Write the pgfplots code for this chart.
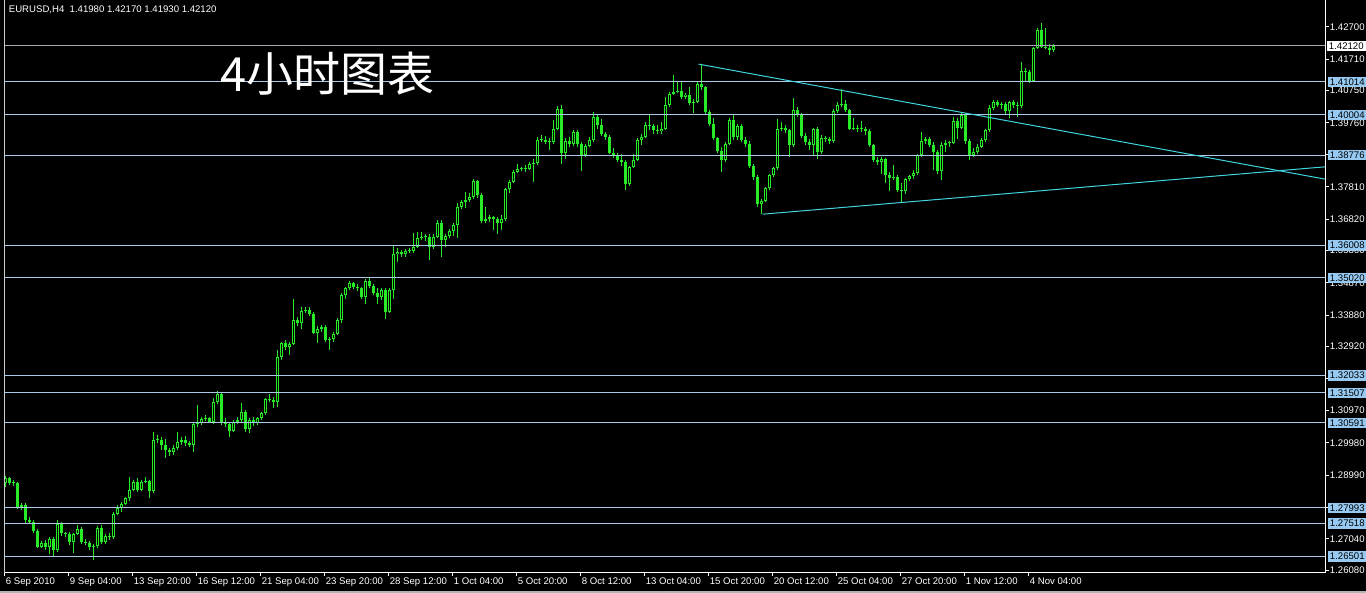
\documentclass[border=0pt]{standalone}
\usepackage{fontspec}
\setmainfont{Liberation Sans}
\newfontfamily\cjk{Noto Sans CJK SC}
\usepackage{pgfplots}
\usepackage{pgfplotstable}
\pgfplotsset{compat=1.18}

\definecolor{candle}{RGB}{40,235,40}
\definecolor{level}{RGB}{170,200,232}
\definecolor{bidline}{RGB}{165,168,178}
\definecolor{levelbox}{RGB}{150,202,242}
\definecolor{trend}{RGB}{64,212,222}

% EURUSD H4 bars: index, open, high, low, close
\pgfplotstableread{
i O H L C
0 1.2874 1.2896 1.2862 1.2889
1 1.2889 1.2892 1.2869 1.2876
2 1.2876 1.2884 1.2866 1.2874
3 1.2874 1.2879 1.2797 1.2802
4 1.2802 1.2815 1.2794 1.2807
5 1.2807 1.2813 1.2751 1.2762
6 1.2762 1.2772 1.2749 1.2756
7 1.2756 1.2762 1.2723 1.2729
8 1.2729 1.2733 1.2675 1.2680
9 1.2680 1.2698 1.2675 1.2692
10 1.2692 1.2700 1.2670 1.2680
11 1.2680 1.2711 1.2658 1.2705
12 1.2705 1.2711 1.2651 1.2670
13 1.2670 1.2762 1.2665 1.2749
14 1.2749 1.2756 1.2713 1.2721
15 1.2721 1.2726 1.2711 1.2718
16 1.2718 1.2726 1.2685 1.2695
17 1.2695 1.2723 1.2660 1.2719
18 1.2719 1.2746 1.2716 1.2733
19 1.2733 1.2741 1.2688 1.2695
20 1.2695 1.2705 1.2685 1.2692
21 1.2692 1.2698 1.2670 1.2678
22 1.2678 1.2688 1.2641 1.2682
23 1.2682 1.2743 1.2675 1.2739
24 1.2739 1.2746 1.2688 1.2695
25 1.2695 1.2719 1.2688 1.2713
26 1.2713 1.2721 1.2702 1.2709
27 1.2709 1.2787 1.2705 1.2780
28 1.2780 1.2807 1.2777 1.2800
29 1.2800 1.2818 1.2787 1.2811
30 1.2811 1.2833 1.2807 1.2828
31 1.2828 1.2892 1.2821 1.2855
32 1.2855 1.2884 1.2851 1.2879
33 1.2879 1.2889 1.2848 1.2855
34 1.2855 1.2884 1.2851 1.2878
35 1.2878 1.2892 1.2874 1.2880
36 1.2880 1.2884 1.2828 1.2851
37 1.2851 1.3032 1.2845 1.3006
38 1.3006 1.3022 1.2998 1.3008
39 1.3008 1.3017 1.2976 1.2991
40 1.2991 1.3011 1.2953 1.2976
41 1.2976 1.2981 1.2957 1.2971
42 1.2971 1.2991 1.2960 1.2981
43 1.2981 1.3032 1.2976 1.3001
44 1.3001 1.3017 1.2991 1.3006
45 1.3006 1.3019 1.2988 1.2996
46 1.2996 1.3004 1.2984 1.2991
47 1.2991 1.3062 1.2971 1.3057
48 1.3057 1.3113 1.3045 1.3059
49 1.3059 1.3078 1.3052 1.3070
50 1.3070 1.3083 1.3066 1.3073
51 1.3073 1.3078 1.3059 1.3062
52 1.3062 1.3134 1.3057 1.3124
53 1.3124 1.3157 1.3117 1.3147
54 1.3147 1.3154 1.3052 1.3062
55 1.3062 1.3073 1.3045 1.3055
56 1.3055 1.3062 1.3017 1.3035
57 1.3035 1.3068 1.3032 1.3062
58 1.3062 1.3078 1.3055 1.3068
59 1.3068 1.3121 1.3062 1.3093
60 1.3093 1.3098 1.3032 1.3039
61 1.3039 1.3073 1.3027 1.3068
62 1.3068 1.3078 1.3049 1.3059
63 1.3059 1.3078 1.3052 1.3073
64 1.3073 1.3093 1.3068 1.3088
65 1.3088 1.3134 1.3083 1.3131
66 1.3131 1.3147 1.3124 1.3129
67 1.3129 1.3137 1.3106 1.3124
68 1.3123 1.3281 1.3108 1.3261
69 1.3261 1.3307 1.3251 1.3302
70 1.3302 1.3312 1.3281 1.3291
71 1.3291 1.3307 1.3266 1.3300
72 1.3300 1.3439 1.3296 1.3375
73 1.3375 1.3383 1.3355 1.3363
74 1.3363 1.3414 1.3347 1.3402
75 1.3402 1.3414 1.3395 1.3404
76 1.3404 1.3414 1.3385 1.3391
77 1.3391 1.3398 1.3332 1.3334
78 1.3334 1.3355 1.3302 1.3347
79 1.3347 1.3358 1.3337 1.3353
80 1.3353 1.3358 1.3307 1.3312
81 1.3312 1.3322 1.3283 1.3316
82 1.3316 1.3337 1.3307 1.3332
83 1.3332 1.3381 1.3327 1.3373
84 1.3373 1.3455 1.3365 1.3449
85 1.3449 1.3473 1.3439 1.3470
86 1.3470 1.3493 1.3465 1.3487
87 1.3487 1.3490 1.3467 1.3475
88 1.3475 1.3483 1.3463 1.3470
89 1.3470 1.3475 1.3439 1.3444
90 1.3444 1.3500 1.3424 1.3493
91 1.3493 1.3504 1.3470 1.3477
92 1.3477 1.3483 1.3449 1.3455
93 1.3455 1.3470 1.3424 1.3444
94 1.3444 1.3470 1.3436 1.3465
95 1.3465 1.3470 1.3378 1.3398
96 1.3398 1.3470 1.3395 1.3465
97 1.3465 1.3599 1.3439 1.3574
98 1.3574 1.3595 1.3551 1.3582
99 1.3582 1.3589 1.3567 1.3575
100 1.3575 1.3592 1.3565 1.3584
101 1.3584 1.3595 1.3577 1.3585
102 1.3585 1.3640 1.3577 1.3597
103 1.3597 1.3643 1.3595 1.3623
104 1.3623 1.3643 1.3618 1.3626
105 1.3626 1.3638 1.3616 1.3628
106 1.3628 1.3636 1.3557 1.3597
107 1.3597 1.3636 1.3592 1.3626
108 1.3626 1.3679 1.3623 1.3671
109 1.3671 1.3679 1.3567 1.3618
110 1.3618 1.3636 1.3597 1.3630
111 1.3630 1.3653 1.3623 1.3646
112 1.3646 1.3669 1.3630 1.3664
113 1.3664 1.3730 1.3623 1.3720
114 1.3720 1.3740 1.3712 1.3735
115 1.3735 1.3766 1.3715 1.3740
116 1.3740 1.3761 1.3735 1.3750
117 1.3750 1.3806 1.3745 1.3799
118 1.3799 1.3803 1.3748 1.3755
119 1.3755 1.3763 1.3671 1.3677
120 1.3677 1.3720 1.3669 1.3681
121 1.3681 1.3694 1.3674 1.3687
122 1.3687 1.3691 1.3648 1.3683
123 1.3683 1.3689 1.3638 1.3671
124 1.3671 1.3694 1.3650 1.3681
125 1.3681 1.3776 1.3677 1.3773
126 1.3773 1.3801 1.3763 1.3796
127 1.3796 1.3832 1.3791 1.3826
128 1.3826 1.3850 1.3822 1.3835
129 1.3835 1.3842 1.3830 1.3837
130 1.3837 1.3847 1.3827 1.3834
131 1.3834 1.3857 1.3832 1.3852
132 1.3852 1.3867 1.3796 1.3854
133 1.3854 1.3932 1.3847 1.3923
134 1.3923 1.3939 1.3918 1.3925
135 1.3925 1.3936 1.3913 1.3918
136 1.3918 1.3929 1.3893 1.3919
137 1.3919 1.3985 1.3913 1.3959
138 1.3959 1.4027 1.3954 1.4020
139 1.4020 1.4031 1.3852 1.3883
140 1.3883 1.3929 1.3867 1.3921
141 1.3921 1.3932 1.3901 1.3911
142 1.3911 1.3954 1.3905 1.3949
143 1.3949 1.3954 1.3901 1.3913
144 1.3913 1.3918 1.3830 1.3878
145 1.3878 1.3913 1.3872 1.3905
146 1.3905 1.3932 1.3901 1.3923
147 1.3923 1.4010 1.3918 1.3993
148 1.3993 1.4000 1.3959 1.3969
149 1.3969 1.3987 1.3936 1.3942
150 1.3942 1.3949 1.3925 1.3934
151 1.3934 1.3939 1.3881 1.3885
152 1.3885 1.3898 1.3870 1.3878
153 1.3878 1.3883 1.3857 1.3864
154 1.3864 1.3881 1.3844 1.3857
155 1.3857 1.3864 1.3770 1.3789
156 1.3789 1.3844 1.3783 1.3842
157 1.3842 1.3881 1.3837 1.3864
158 1.3864 1.3929 1.3860 1.3923
159 1.3923 1.3942 1.3908 1.3934
160 1.3934 1.3980 1.3929 1.3971
161 1.3971 1.4000 1.3956 1.3966
162 1.3966 1.3974 1.3942 1.3956
163 1.3956 1.3969 1.3942 1.3950
164 1.3950 1.3980 1.3942 1.3959
165 1.3959 1.4056 1.3954 1.4031
166 1.4031 1.4071 1.4025 1.4066
167 1.4066 1.4122 1.4061 1.4071
168 1.4071 1.4102 1.4068 1.4074
169 1.4074 1.4105 1.4048 1.4054
170 1.4054 1.4068 1.4048 1.4063
171 1.4063 1.4085 1.4031 1.4036
172 1.4036 1.4048 1.4005 1.4041
173 1.4041 1.4102 1.4036 1.4095
174 1.4095 1.4156 1.4078 1.4085
175 1.4085 1.4089 1.4000 1.4010
176 1.4010 1.4015 1.3966 1.3972
177 1.3972 1.3990 1.3923 1.3929
178 1.3929 1.3934 1.3885 1.3891
179 1.3891 1.3901 1.3827 1.3864
180 1.3864 1.3918 1.3857 1.3913
181 1.3913 1.3990 1.3908 1.3985
182 1.3985 1.4000 1.3923 1.3932
183 1.3932 1.3974 1.3925 1.3966
184 1.3966 1.3972 1.3918 1.3925
185 1.3925 1.3932 1.3901 1.3913
186 1.3913 1.3921 1.3837 1.3844
187 1.3844 1.3850 1.3803 1.3811
188 1.3811 1.3816 1.3719 1.3728
189 1.3728 1.3745 1.3697 1.3738
190 1.3738 1.3781 1.3735 1.3776
191 1.3776 1.3821 1.3770 1.3816
192 1.3816 1.3842 1.3811 1.3837
193 1.3837 1.3987 1.3832 1.3959
194 1.3959 1.3980 1.3952 1.3962
195 1.3962 1.3969 1.3946 1.3954
196 1.3954 1.3959 1.3872 1.3908
197 1.3908 1.4051 1.3903 1.4017
198 1.4017 1.4025 1.3993 1.4000
199 1.4000 1.4005 1.3930 1.3937
200 1.3937 1.3944 1.3908 1.3918
201 1.3918 1.3926 1.3893 1.3908
202 1.3908 1.3961 1.3877 1.3957
203 1.3957 1.3964 1.3867 1.3886
204 1.3886 1.3939 1.3882 1.3930
205 1.3930 1.3937 1.3918 1.3926
206 1.3926 1.3933 1.3913 1.3920
207 1.3920 1.4020 1.3916 1.4012
208 1.4012 1.4039 1.4005 1.4032
209 1.4032 1.4079 1.4025 1.4034
210 1.4034 1.4046 1.4010 1.4015
211 1.4015 1.4020 1.3954 1.3959
212 1.3959 1.3990 1.3954 1.3961
213 1.3961 1.3969 1.3949 1.3957
214 1.3957 1.3981 1.3949 1.3959
215 1.3959 1.3964 1.3939 1.3951
216 1.3951 1.3957 1.3903 1.3908
217 1.3908 1.3913 1.3857 1.3862
218 1.3862 1.3872 1.3847 1.3857
219 1.3857 1.3872 1.3821 1.3865
220 1.3865 1.3869 1.3791 1.3818
221 1.3818 1.3826 1.3767 1.3808
222 1.3808 1.3847 1.3801 1.3812
223 1.3812 1.3818 1.3765 1.3770
224 1.3770 1.3791 1.3733 1.3767
225 1.3767 1.3808 1.3760 1.3804
226 1.3804 1.3818 1.3798 1.3814
227 1.3814 1.3831 1.3806 1.3824
228 1.3824 1.3882 1.3818 1.3877
229 1.3877 1.3947 1.3872 1.3920
230 1.3920 1.3933 1.3913 1.3926
231 1.3926 1.3933 1.3903 1.3908
232 1.3908 1.3918 1.3831 1.3886
233 1.3886 1.3893 1.3821 1.3828
234 1.3828 1.3918 1.3801 1.3910
235 1.3910 1.3923 1.3888 1.3914
236 1.3914 1.3920 1.3903 1.3916
237 1.3916 1.3995 1.3913 1.3981
238 1.3981 1.3990 1.3928 1.3961
239 1.3961 1.4008 1.3957 1.4000
240 1.4000 1.4005 1.3913 1.3920
241 1.3920 1.3928 1.3862 1.3879
242 1.3879 1.3900 1.3872 1.3888
243 1.3888 1.3913 1.3882 1.3902
244 1.3902 1.3930 1.3898 1.3923
245 1.3923 1.3959 1.3918 1.3954
246 1.3954 1.4030 1.3949 1.4022
247 1.4022 1.4046 1.4015 1.4039
248 1.4039 1.4046 1.4025 1.4030
249 1.4030 1.4041 1.4018 1.4034
250 1.4034 1.4039 1.4000 1.4012
251 1.4012 1.4043 1.3990 1.4039
252 1.4039 1.4046 1.4022 1.4030
253 1.4030 1.4039 1.3995 1.4028
254 1.4028 1.4163 1.4022 1.4134
255 1.4134 1.4143 1.4100 1.4132
256 1.4132 1.4137 1.4097 1.4104
257 1.4104 1.4209 1.4102 1.4204
258 1.4204 1.4265 1.4202 1.4260
259 1.4260 1.4283 1.4204 1.4209
260 1.4209 1.4265 1.4202 1.4206
261 1.4206 1.4216 1.4183 1.4198
262 1.4198 1.4217 1.4193 1.4212
}\eurusd

\newcommand\ticksize{\fontsize{4.8}{5.5}\selectfont}

% candle parts are drawn as error bars; the data points themselves stay invisible
\pgfplotsset{candlepart/.style={forget plot, only marks, mark=*, mark size=0pt,
  mark options={draw=none, fill=none}}}

\begin{document}
\begin{tikzpicture}
% page and window frame, offset so bar centres fall on pixel centres
\fill[black] (-2.25pt,-10pt) rectangle (680.75pt,286.5pt);
\useasboundingbox (-2.25pt,-10pt) rectangle (680.75pt,286.5pt);
\fill[white!70!black] (-2.25pt,-10pt) rectangle (680.75pt,-9.2pt);
\begin{axis}[
  at={(0pt,0pt)}, anchor=south west,
  scale only axis, width=660.5pt, height=286.5pt,
  xmin=-0.25, xmax=330, ymin=1.2600, ymax=1.4352,
  axis line style={draw=none},
  tick align=outside, major tick length=1.5pt,
  tick style={white, line width=0.5pt},
  xtick pos=bottom, ytick pos=right, yticklabel pos=right,
  xtick={-0.25,15.75,...,255.75},
  xticklabels={6 Sep 2010,9 Sep 04:00,13 Sep 20:00,16 Sep 12:00,21 Sep 04:00,
    23 Sep 20:00,28 Sep 12:00,1 Oct 04:00,5 Oct 20:00,8 Oct 12:00,13 Oct 04:00,
    15 Oct 20:00,20 Oct 12:00,25 Oct 04:00,27 Oct 20:00,1 Nov 12:00,4 Nov 04:00},
  xticklabel style={anchor=north west, inner sep=0pt, xshift=0.5pt, yshift=-0.5pt,
    font=\ticksize, text=white},
  ytick={1.4270,1.4171,1.4075,1.3976,1.3879,1.3781,1.3682,1.3586,1.3487,1.3388,
    1.3292,1.3195,1.3097,1.2998,1.2899,1.2800,1.2704,1.2608},
  yticklabels={1.42700,1.41710,1.40750,1.39760,1.38790,1.37810,1.36820,1.35860,
    1.34870,1.33880,1.32920,1.31950,1.30970,1.29980,1.28990,1.28000,1.27040,1.26080},
  yticklabel style={anchor=west, inner sep=0pt, xshift=0.5pt, font=\ticksize, text=white},
  extra y ticks={1.41014,1.40004,1.38776,1.36008,1.35020,1.32033,1.31507,1.30591,
    1.27993,1.27518,1.26501},
  extra y tick labels={1.41014,1.40004,1.38776,1.36008,1.35020,1.32033,1.31507,
    1.30591,1.27993,1.27518,1.26501},
  extra y tick style={major tick length=0pt,
    yticklabel style={fill=levelbox, text=black, inner xsep=1pt, inner ysep=0.9pt, xshift=0.5pt}},
]
% wicks
\addplot[candlepart,
  error bars/.cd, y dir=plus, y explicit, error mark=none,
  error bar style={draw=candle, line width=0.5pt}]
  table[x=i, y=L, y error expr=\thisrow{H}-\thisrow{L}] {\eurusd};
% bodies
\addplot[candlepart,
  error bars/.cd, y dir=plus, y explicit, error mark=none,
  error bar style={draw=candle, line width=1.5pt}]
  table[x=i, y expr={min(\thisrow{O},\thisrow{C})},
        y error expr={max(abs(\thisrow{C}-\thisrow{O}),0.0003)}] {\eurusd};
% hollow interior of rising bars
\addplot[candlepart,
  error bars/.cd, y dir=plus, y explicit, error mark=none,
  error bar style={draw=black, line width=0.5pt}]
  table[x=i, y expr={\thisrow{O}+0.0003},
        y error expr={max(\thisrow{C}-\thisrow{O}-0.0006,0)}] {\eurusd};
% horizontal levels
\pgfplotsinvokeforeach{1.41014,1.40004,1.38776,1.36008,1.35020,1.32033,1.31507,
  1.30591,1.27993,1.27518,1.26501}{
  \addplot[forget plot, level, line width=0.5pt] coordinates {(-0.25,#1) (330,#1)};
}
% bid line
\addplot[forget plot, bidline, line width=0.5pt] coordinates {(-0.25,1.4212) (330,1.4212)};
% triangle trend lines
\addplot[forget plot, trend, line width=0.5pt] coordinates {(173.25,1.4156) (330,1.3804)};
\addplot[forget plot, trend, line width=0.5pt] coordinates {(189.25,1.3697) (330,1.3842)};
\coordinate (bid) at (axis cs:330,1.4212);
\end{axis}
\draw[white!80!black, line width=0.5pt] (0pt,286.5pt) -- (0pt,0pt);
\draw[white, line width=0.5pt] (0pt,0pt) -- (660.5pt,0pt) -- (660.5pt,286.5pt);
\node[anchor=west, fill=white, text=black, inner xsep=1pt, inner ysep=0.9pt,
  font=\ticksize, xshift=0.5pt] at (bid) {1.42120};
\node[anchor=base west, inner sep=0pt, text=white, font=\ticksize] at (2pt,280pt)
  {EURUSD,H4\ \ 1.41980 1.42170 1.41930 1.42120};
\node[anchor=base west, inner sep=0pt, text=white, font=\cjk\fontsize{23.5}{26}\selectfont]
  at (108pt,240.5pt) {4小时图表};
\end{tikzpicture}
\end{document}
